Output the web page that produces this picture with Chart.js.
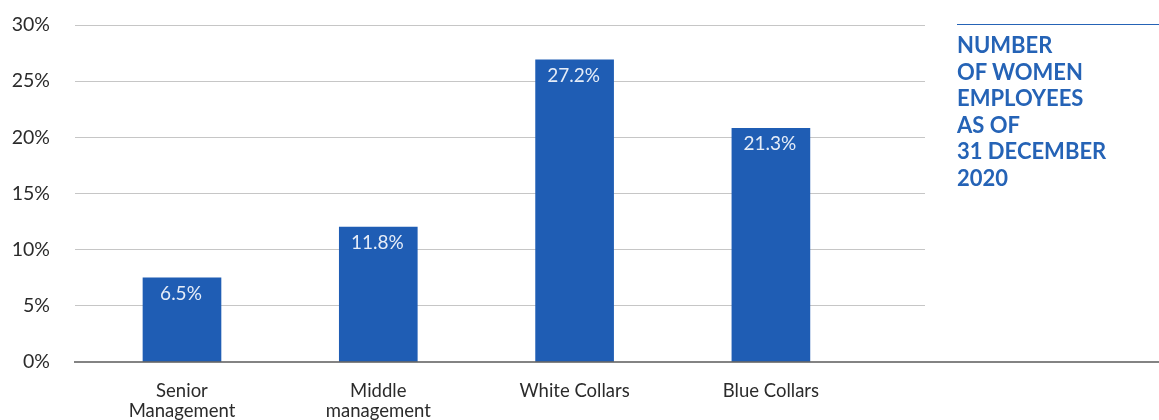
<!DOCTYPE html>
<html>
<head>
<meta charset="utf-8">
<script src="https://cdn.jsdelivr.net/npm/chart.js@4/dist/chart.umd.min.js"></script>
<style>
  html, body { margin: 0; padding: 0; background: #fff; }
  #wrap { position: relative; width: 1159px; height: 420px; }
  #title {
    position: absolute; left: 957px; top: 24px; width: 202px;
    border-top: 1.5px solid #2563b6; padding-top: 7px;
    font-family: Lato, "Open Sans", sans-serif; font-weight: 700;
    font-size: 22px; line-height: 26.5px; color: #2563b6;
  }
</style>
</head>
<body>
<div id="wrap">
  <canvas id="womenChart" width="1159" height="420"></canvas>
  <div id="title">NUMBER<br>OF WOMEN<br>EMPLOYEES<br>AS OF<br>31 DECEMBER<br>2020</div>
</div>
<script>
// categories and values
const categories = [["Senior", "Management"], ["Middle", "management"], "White Collars", "Blue Collars"];
const barHeights = [7.5, 12.0, 26.9, 20.8];
const valueLabels = ["6.5%", "11.8%", "27.2%", "21.3%"];
const yTicks = [0, 5, 10, 15, 20, 25, 30];

const barColor = "#1f5db4";

// zero line runs past the plot to the right edge
const baseLinePlugin = {
  id: "baseLine",
  afterDraw(chart) {
    const { ctx, chartArea, scales } = chart;
    const y = scales.y.getPixelForValue(0);
    ctx.save();
    ctx.strokeStyle = "#5a5a5a";
    ctx.lineWidth = 1.5;
    ctx.beginPath();
    ctx.moveTo(chartArea.left - 1, y);
    ctx.lineTo(chart.width, y);
    ctx.stroke();
    ctx.restore();
  }
};

// percent labels inside the top of each bar
const barLabelPlugin = {
  id: "barLabels",
  afterDatasetsDraw(chart) {
    const { ctx } = chart;
    const meta = chart.getDatasetMeta(0);
    ctx.save();
    ctx.fillStyle = "#e6edf8";
    ctx.font = "19px Lato, 'Open Sans', sans-serif";
    ctx.textAlign = "center";
    ctx.textBaseline = "middle";
    meta.data.forEach((bar, i) => {
      ctx.fillText(valueLabels[i], bar.x - 1, bar.y + 16);
    });
    ctx.restore();
  }
};

const ctx = document.getElementById("womenChart");
new Chart(ctx, {
  type: "bar",
  data: {
    datasets: [{
      data: barHeights.map((v, i) => ({ x: i, y: v })),
      backgroundColor: barColor,
      barThickness: 78,
      borderWidth: 0
    }]
  },
  options: {
    responsive: false,
    animation: false,
    devicePixelRatio: 1,
    layout: { padding: { top: 25, right: 234, left: 0, bottom: 0 } },
    plugins: { legend: { display: false }, tooltip: { enabled: false } },
    scales: {
      x: {
        type: "linear",
        min: -0.545,
        max: 3.785,
        offset: false,
        grid: { display: false },
        border: { display: false },
        afterFit(scale) { scale.height = 58; },
        ticks: {
          stepSize: 1,
          includeBounds: false,
          autoSkip: false,
          maxRotation: 0,
          padding: 11,
          color: "#2b2b2b",
          font: { family: "Lato, 'Open Sans', sans-serif", size: 18.5, lineHeight: 1.1 },
          callback: (v) => (Number.isInteger(v) && categories[v] !== undefined) ? categories[v] : ""
        }
      },
      y: {
        min: 0,
        max: 30,
        afterFit(scale) {
          scale.width = 75;
          scale.paddingTop = 0;
          scale.paddingBottom = 0;
        },
        afterBuildTicks(scale) { scale.ticks = yTicks.map(v => ({ value: v })); },
        grid: {
          drawTicks: false,
          color: (c) => c.tick && c.tick.value === 0 ? "rgba(0,0,0,0)" : "#c6c6c6",
          lineWidth: 1
        },
        border: { display: false },
        ticks: {
          padding: 25,
          color: "#2b2b2b",
          font: { family: "Lato, 'Open Sans', sans-serif", size: 19.5 },
          callback: (v) => v + "%"
        }
      }
    }
  },
  plugins: [baseLinePlugin, barLabelPlugin]
});
</script>
</body>
</html>
